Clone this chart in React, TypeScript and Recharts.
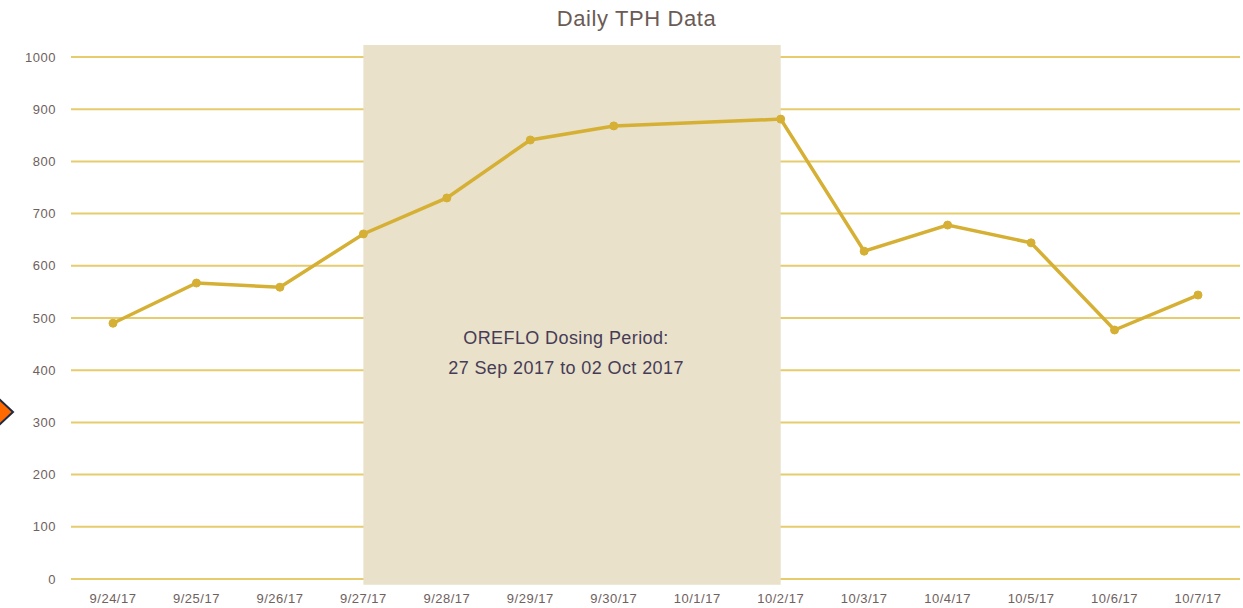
import { LineChart, Line, XAxis, YAxis, CartesianGrid, ReferenceArea, Label } from "recharts";

const dates = [
  "9/24/17", "9/25/17", "9/26/17", "9/27/17", "9/28/17", "9/29/17", "9/30/17",
  "10/1/17", "10/2/17", "10/3/17", "10/4/17", "10/5/17", "10/6/17", "10/7/17",
];
const tph = [490, 567, 559, 661, 730, 841, 868, null, 881, 628, 678, 644, 477, 544];
const yTicks = [0, 100, 200, 300, 400, 500, 600, 700, 800, 900, 1000];

const data = dates.map((d, i) => ({ date: d, tph: tph[i] }));

const GOLD = "#d5b034";
const FONT = "'Liberation Sans', Arial, sans-serif";

const DosingLabel = (props: any) => {
  const vb = props.viewBox || {};
  const cx = vb.x + vb.width / 2 - 6;
  return (
    <text x={cx} textAnchor="middle" fill="#463c58" fontSize={18} fontFamily={FONT} letterSpacing={0.4}>
      <tspan x={cx} y={vb.y + 299}>OREFLO Dosing Period:</tspan>
      <tspan x={cx} y={vb.y + 329}>27 Sep 2017 to 02 Oct 2017</tspan>
    </text>
  );
};

const App = () => {
  return (
    <div style={{ position: "absolute", left: 0, top: 0, width: 1243, height: 608, fontFamily: FONT }}>
      <div
        style={{
          position: "absolute",
          top: 6,
          left: 0,
          width: 1273,
          textAlign: "center",
          fontSize: 22,
          letterSpacing: 0.6,
          color: "#6b5b55",
        }}
      >
        Daily TPH Data
      </div>
      <svg width={20} height={40} style={{ position: "absolute", left: 0, top: 392 }}>
        <polygon points="-3,5 13,20 -3,35" fill="#ff6a00" stroke="#1e2a44" strokeWidth={2} />
      </svg>
      <LineChart
        width={1243}
        height={608}
        data={data}
        margin={{ top: 57, right: 3, bottom: 0, left: 0 }}
      >
        <ReferenceArea
          x1="9/27/17"
          x2="10/2/17"
          y1={-11}
          y2={1023}
          fill="#e9e1c9"
          fillOpacity={1}
          stroke="none"
          ifOverflow="visible"
        >
          <Label content={DosingLabel} />
        </ReferenceArea>
        <CartesianGrid vertical={false} stroke="#e3c65c" strokeWidth={2} strokeOpacity={0.9} />
        <XAxis
          dataKey="date"
          interval={0}
          axisLine={false}
          tickLine={false}
          padding={{ left: 42, right: 42 }}
          height={29}
          tickMargin={9}
          tick={{ fill: "#6f615d", fontSize: 13, fontFamily: FONT, letterSpacing: 0.5 }}
        />
        <YAxis
          domain={[0, 1000]}
          ticks={yTicks}
          interval={0}
          axisLine={false}
          tickLine={false}
          width={71}
          tickMargin={9}
          tick={{ fill: "#6f615d", fontSize: 13, fontFamily: FONT, letterSpacing: 0.5 }}
        />
        <Line
          type="linear"
          dataKey="tph"
          stroke={GOLD}
          strokeWidth={3.5}
          connectNulls
          dot={{ r: 4, fill: GOLD, stroke: GOLD, strokeWidth: 1 }}
          isAnimationActive={false}
        />
      </LineChart>
    </div>
  );
};

export default App;
